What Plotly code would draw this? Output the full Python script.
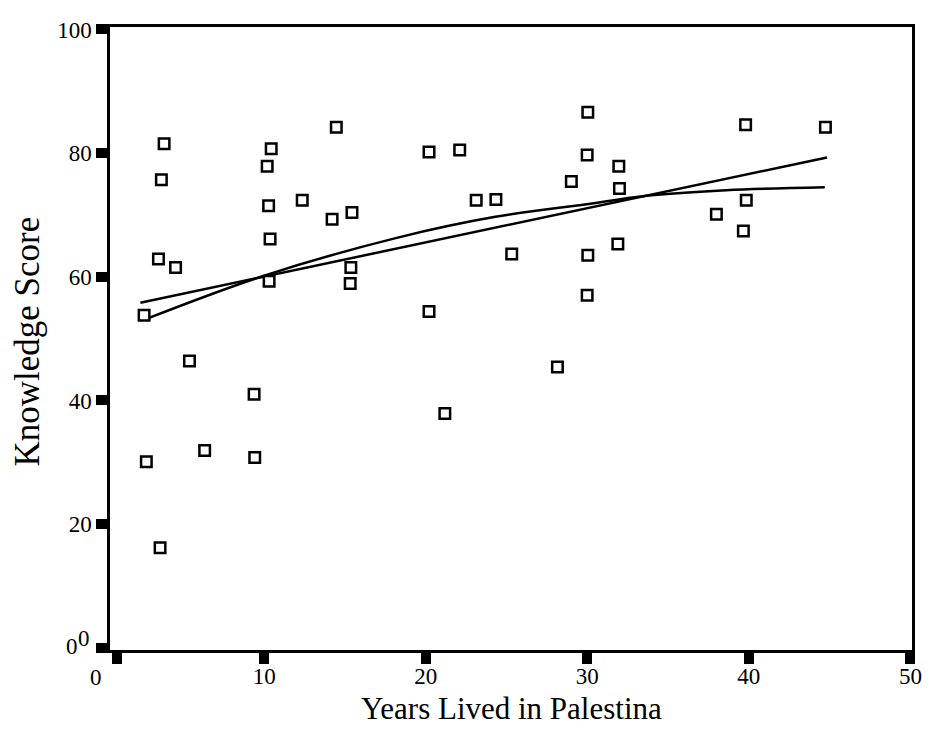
import plotly.graph_objects as go

# ---- data ----
years = [3.80, 3.63, 10.43, 10.18, 14.46, 10.27, 12.35, 14.20, 15.43, 10.36,
         3.45, 4.51, 10.30, 2.56, 15.36, 15.32, 5.37, 9.37, 6.31, 2.70,
         9.41, 3.55, 30.03, 20.20, 22.10, 29.99, 31.95, 29.01, 31.99, 23.12,
         24.34, 25.32, 30.03, 31.89, 29.99, 20.20, 39.80, 44.74, 39.84, 37.99,
         39.66, 28.15, 21.18]
scores = [81.5, 75.7, 80.7, 77.9, 84.2, 71.5, 72.4, 69.3, 70.4, 66.1,
          62.9, 61.5, 59.3, 53.8, 61.5, 58.9, 46.4, 41.0, 31.9, 30.1,
          30.8, 16.2, 86.6, 80.2, 80.5, 79.7, 77.9, 75.4, 74.3, 72.4,
          72.5, 63.7, 63.5, 65.3, 57.0, 54.4, 84.6, 84.2, 72.4, 70.1,
          67.4, 45.4, 37.9]

# linear fit line
lin_x = [2.33, 44.84]
lin_y = [55.8, 79.3]

# quadratic fit curve
quad_x = [2.9, 10.0, 18.2, 24.3, 30.4, 33.3, 38.6, 44.7]
quad_y = [53.4, 60.2, 66.3, 69.7, 71.9, 73.0, 74.0, 74.5]

x_tick_vals = [0.86, 10, 20, 30, 40, 50]
x_tick_text = ["", "10", "20", "30", "40", "50"]
y_tick_vals = [0, 20, 40, 60, 80, 100]
y_tick_text = ["", "20", "40", "60", "80", "100"]

x_title = "Years Lived in Palestina"
y_title = "Knowledge Score"

FONT = "Liberation Serif"

fig = go.Figure()
fig.add_trace(go.Scatter(x=lin_x, y=lin_y, mode="lines",
                         line=dict(color="black", width=2.5), hoverinfo="skip",
                         showlegend=False))
fig.add_trace(go.Scatter(x=quad_x, y=quad_y, mode="lines",
                         line=dict(color="black", width=2.5, shape="spline", smoothing=1.0),
                         hoverinfo="skip", showlegend=False))
fig.add_trace(go.Scatter(x=years, y=scores, mode="markers",
                         marker=dict(symbol="square", size=10.5, color="white",
                                     line=dict(color="black", width=2.5)),
                         showlegend=False))

axis_common = dict(showline=True, linecolor="black", linewidth=2.5, mirror=True,
                   showgrid=False, zeroline=False, ticks="outside",
                   tickcolor="black", ticklen=11, tickwidth=10,
                   tickfont=dict(family=FONT, size=23, color="black"))

fig.update_xaxes(range=[0.45, 50.1], tickmode="array", tickvals=x_tick_vals,
                 ticktext=x_tick_text, ticklabelstandoff=-7, **axis_common)
fig.update_yaxes(range=[-0.35, 100.4], tickmode="array", tickvals=y_tick_vals,
                 ticktext=y_tick_text, **axis_common)

zero_font = dict(family=FONT, size=23, color="black")
annotations = [
    dict(text="0", x=0, y=0, xref="paper", yref="paper", xshift=-14, yshift=-27, showarrow=False,
         xanchor="center", yanchor="middle", font=zero_font),
    dict(text="0", x=0, y=0, xref="paper", yref="y", xshift=-38, yshift=1, showarrow=False,
         xanchor="center", yanchor="middle", font=zero_font),
    dict(text="0", x=0, y=0, xref="paper", yref="y", xshift=-26, yshift=9, showarrow=False,
         xanchor="center", yanchor="middle", font=zero_font),
    dict(text=x_title, x=0.5, y=0, xref="paper", yref="paper", yshift=-58, showarrow=False,
         xanchor="center", yanchor="middle", font=dict(family=FONT, size=31, color="black")),
    dict(text=y_title, x=0, y=0.5, xref="paper", yref="paper", xshift=-83, yshift=-3,
         showarrow=False, textangle=-90, xanchor="center", yanchor="middle",
         font=dict(family=FONT, size=35, color="black")),
]

# the page body adds an 8px offset, so the figure is sized to fit the window
fig.update_layout(width=924, height=734, paper_bgcolor="white", plot_bgcolor="white",
                  margin=dict(l=102, r=10, t=11, b=92), annotations=annotations,
                  showlegend=False)

fig.write_html("out.html")
